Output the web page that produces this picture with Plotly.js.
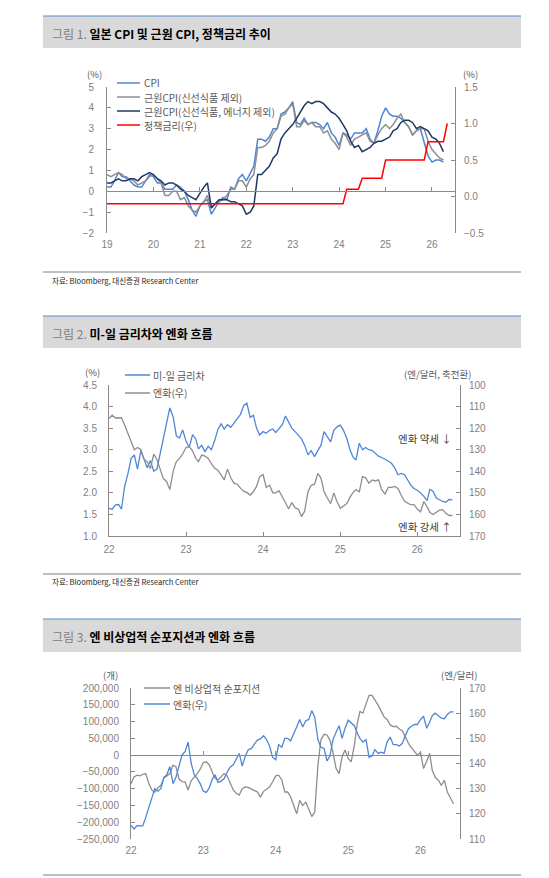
<!DOCTYPE html>
<html>
<head>
<meta charset="utf-8">
<script src="https://cdn.plot.ly/plotly-3.0.1.min.js"></script>
<style>
  html, body { margin: 0; padding: 0; background: #ffffff; }
  #chart { width: 549px; height: 878px; }
</style>
</head>
<body>
<div id="chart"></div>
<script>
// ---------- Figure 1: Japan CPI (YoY, %) monthly from Jan 2019, BOJ policy rate ----------
const cpiHeadline = [
  0.2, 0.2, 0.5, 0.9, 0.7, 0.7, 0.5, 0.3, 0.2, 0.2, 0.5, 0.8,
  0.7, 0.4, 0.4, 0.1, 0.1, 0.1, 0.3, 0.2, 0.0, -0.4, -0.9, -1.2,
  -0.7, -0.5, -0.4, -1.1, -0.8, -0.5, -0.3, -0.4, 0.2, 0.1, 0.6, 0.8,
  0.5, 0.9, 1.2, 2.5, 2.5, 2.4, 2.6, 3.0, 3.0, 3.7, 3.8, 4.0,
  4.3, 3.3, 3.2, 3.5, 3.2, 3.3, 3.3, 3.2, 3.0, 3.3, 2.8, 2.6,
  2.2, 2.8, 2.7, 2.5, 2.8, 2.8, 2.8, 3.0, 2.5, 2.3, 2.9, 3.6,
  4.0, 3.7, 3.6, 3.6, 3.5, 3.3, 3.1, 2.7, 2.9, 3.0, 2.4, 1.7,
  1.4, 1.5, 1.5, 1.4
];
const cpiCore = [
  0.8, 0.7, 0.8, 0.9, 0.8, 0.6, 0.6, 0.5, 0.3, 0.4, 0.5, 0.7,
  0.8, 0.6, 0.4, -0.2, -0.2, 0.0, 0.0, -0.4, -0.3, -0.7, -0.9, -1.0,
  -0.7, -0.5, -0.2, -0.8, -0.6, -0.5, -0.4, -0.2, 0.1, 0.1, 0.5, 0.5,
  0.2, 0.6, 0.8, 2.1, 2.1, 2.2, 2.4, 2.8, 3.0, 3.6, 3.7, 4.0,
  4.2, 3.1, 3.1, 3.4, 3.2, 3.3, 3.1, 3.1, 2.8, 2.9, 2.5, 2.3,
  2.0, 2.8, 2.6, 2.2, 2.5, 2.6, 2.7, 2.8, 2.4, 2.3, 2.7, 3.0,
  3.2, 3.0, 3.2, 3.5, 3.7, 3.3, 3.1, 2.7, 2.9, 3.0, 3.0, 2.4,
  2.0, 1.8, 1.6, 1.5
];
const cpiCoreCore = [
  0.4, 0.4, 0.5, 0.6, 0.5, 0.5, 0.6, 0.6, 0.5, 0.7, 0.8, 0.9,
  0.8, 0.6, 0.5, 0.3, 0.4, 0.4, 0.3, 0.1, 0.0, -0.2, -0.3, -0.4,
  -0.1, 0.2, 0.4, -0.8, -0.6, -0.4, -0.4, -0.4, -0.5, -0.5, -0.6, -0.7,
  -1.1, -1.0, -0.7, 0.8, 0.8, 1.0, 1.2, 1.6, 1.8, 2.5, 2.8, 3.0,
  3.2, 3.5, 3.8, 4.1, 4.3, 4.2, 4.3, 4.3, 4.2, 4.0, 3.8, 3.7,
  3.5, 3.2, 2.9, 2.4, 2.1, 2.2, 1.9, 2.0, 2.1, 2.3, 2.4, 2.4,
  2.5, 2.6, 2.9, 3.0, 3.3, 3.4, 3.4, 3.3, 3.0, 3.1, 3.0, 2.9,
  2.6, 2.5, 2.3, 1.9
];
const policyDates = ['2019-01-01', '2024-02-01', '2024-03-01', '2024-06-01', '2024-07-01',
  '2024-12-01', '2025-01-01', '2025-11-01', '2025-12-01', '2026-04-01', '2026-05-01'];
const policyRate = [-0.1, -0.1, 0.1, 0.1, 0.25, 0.25, 0.5, 0.5, 0.75, 0.75, 1.0];

// ---------- Figures 2 & 3: semi-monthly observations (1st / 16th) from Jan 2022 ----------
const usJpSpread = [
  1.64, 1.62, 1.72, 1.73, 1.62, 2.15, 2.45, 2.80, 2.88, 2.55,
  2.98, 2.78, 2.58, 2.75, 2.50, 2.55, 2.92, 3.25, 3.55, 3.97,
  3.76, 3.32, 3.27, 3.46, 3.20, 3.05, 3.35, 3.25, 3.02, 3.10,
  2.95, 3.08, 3.00, 3.20, 3.47, 3.60, 3.48, 3.58, 3.52, 3.62,
  3.70, 3.82, 4.02, 4.08, 3.75, 3.80, 3.50, 3.34, 3.42, 3.38,
  3.45, 3.48, 3.40, 3.50, 3.58, 3.78, 3.62, 3.50, 3.42, 3.34,
  3.25, 3.10, 2.88, 2.98, 2.84, 2.98, 3.10, 3.42, 3.30, 3.18,
  3.45, 3.53, 3.57, 3.45, 3.26, 3.00, 2.84, 2.76, 3.15, 3.00,
  3.05, 3.00, 2.98, 2.92, 2.85, 2.82, 2.78, 2.74, 2.68, 2.58,
  2.42, 2.45, 2.42, 2.30, 2.18, 2.10, 2.06, 2.00, 1.92, 1.82,
  2.08, 2.04, 1.88, 1.84, 1.80, 1.78, 1.85, 1.83
];
const usdJpy = [
  115.5, 114.0, 115.3, 115.3, 115.2, 118.5, 122.5, 126.5, 130.0, 129.0,
  130.0, 134.5, 135.5, 138.8, 132.0, 134.5, 139.5, 143.5, 144.7, 148.5,
  140.0, 135.5, 134.0, 132.0, 129.0, 128.5, 130.5, 134.0, 135.5, 132.5,
  133.0, 134.0, 136.5, 138.5, 139.5, 141.5, 144.0, 139.0, 143.0, 145.5,
  146.0, 147.8, 149.3, 149.8, 151.0, 149.5, 147.0, 142.5, 141.5, 147.5,
  146.5, 150.0, 150.0, 149.0, 151.5, 154.5, 157.5, 154.5, 157.0, 157.5,
  161.0, 158.5, 149.5, 146.5, 146.0, 141.0, 143.0, 149.5, 152.5, 155.0,
  150.0, 154.0, 157.2, 156.0, 155.0, 152.0, 150.0, 148.5, 149.5, 142.5,
  143.0, 145.5, 144.0, 144.5, 144.0, 148.5, 150.5, 147.5, 147.5, 147.0,
  148.0, 151.0, 153.8, 154.8, 155.5, 155.5, 157.5, 158.8, 154.0, 156.5,
  159.0, 160.0, 159.0, 158.0, 157.8, 159.5, 160.5, 160.5
];
const yenNetPosition = [
  -85000, -65000, -60000, -62000, -57000, -55000, -85000, -104000, -110000, -98000,
  -90000, -68000, -62000, -55000, -30000, -35000, -72000, -79000, -80000, -104000,
  -76000, -66000, -55000, -42000, -22000, -20000, -30000, -52000, -69000, -74000,
  -64000, -55000, -62000, -85000, -104000, -114000, -119000, -100000, -95000, -96000,
  -100000, -106000, -110000, -125000, -108000, -100000, -95000, -80000, -62000, -60000,
  -74000, -110000, -110000, -124000, -150000, -175000, -135000, -150000, -140000, -160000,
  -183000, -170000, -30000, 45000, 62000, 60000, 44000, 8000, -40000, -55000,
  -5000, 15000, -10000, -20000, 30000, 95000, 130000, 125000, 155000, 178000,
  178000, 165000, 149000, 131000, 114000, 106000, 90000, 85000, 86000, 78000,
  72000, 55000, 35000, 22000, 12000, 0, 8000, -40000, -18000, 5000,
  -45000, -66000, -75000, -90000, -75000, -110000, -128000, -145000
];

// ---------- helpers ----------
const W = 549, H = 878;
const fx = p => p / W;
const fy = p => 1 - p / H;
const pad2 = n => String(n).padStart(2, '0');
const monthlyDates = (year, n) => Array.from({ length: n }, (_, i) =>
  `${year + Math.floor(i / 12)}-${pad2(i % 12 + 1)}-01`);
const semiMonthlyDates = (year, n) => Array.from({ length: n }, (_, i) => {
  const m = Math.floor(i / 2);
  return `${year + Math.floor(m / 12)}-${pad2(m % 12 + 1)}-${i % 2 ? '16' : '01'}`;
});

const KR = "'Noto Sans CJK KR', 'Noto Sans', sans-serif";
const NUM = "'Liberation Sans', Arial, sans-serif";
const NARROW = "'Liberation Sans Narrow', 'Noto Sans CJK KR', sans-serif";
const AX = '#8a8a8a';
const TICK_FONT = { family: NUM, size: 10, color: '#7f7f7f' };
const BLUE = '#4f86d6', GRAY = '#8e8e8e', NAVY = '#1f3864', RED = '#ff0000';

// plot boxes in page pixels
const box1 = { l: 107, r: 455, t: 87, b: 233 };
const box2 = { l: 109, r: 460, t: 385, b: 536 };
const box3 = { l: 131, r: 460, t: 688, b: 839 };
const dom = b => ({ x: [fx(b.l), fx(b.r)], y: [fy(b.b), fy(b.t)] });
const levelPos = (b, range, v) => fy(b.b - (v - range[0]) / (range[1] - range[0]) * (b.b - b.t));

const range1L = [-2, 5], range1R = [-0.5, 1.5];
const range2L = [1.0, 4.5], range2R = [170, 100];
const range3L = [-250000, 200000], range3R = [110, 170];
const xRange1 = ['2019-01-01', '2026-07-01'];
const xRange2 = ['2022-01-01', '2026-07-22'];
const xRange3 = ['2022-01-01', '2026-07-19'];

const monthX = monthlyDates(2019, cpiHeadline.length);
const semiX = semiMonthlyDates(2022, usdJpy.length);

const baseX = (b, range, extra) => Object.assign({
  type: 'date', domain: dom(b).x, range: range, autorange: false,
  dtick: 'M12', tick0: range[0].slice(0, 4) + '-01-01', tickformat: '%y',
  showgrid: false, zeroline: false, showline: false, ticks: '',
  tickfont: TICK_FONT, fixedrange: true
}, extra);
const baseY = (b, range, extra) => Object.assign({
  domain: dom(b).y, range: range, autorange: false,
  showgrid: false, zeroline: false, showline: true, linecolor: AX, linewidth: 1,
  ticks: 'inside', ticklen: 4, tickcolor: AX, tickfont: TICK_FONT, fixedrange: true
}, extra);

// ---------- traces ----------
const traces = [
  { name: 'CPI', x: monthX, y: cpiHeadline, xaxis: 'x', yaxis: 'y',
    mode: 'lines', line: { color: BLUE, width: 1.5 } },
  { name: '근원CPI(신선식품 제외)', x: monthX, y: cpiCore, xaxis: 'x', yaxis: 'y',
    mode: 'lines', line: { color: GRAY, width: 1.5 } },
  { name: '근원CPI(신선식품, 에너지 제외)', x: monthX, y: cpiCoreCore, xaxis: 'x', yaxis: 'y',
    mode: 'lines', line: { color: NAVY, width: 1.5 } },
  { name: '정책금리(우)', x: policyDates, y: policyRate, xaxis: 'x4', yaxis: 'y2',
    mode: 'lines', line: { color: RED, width: 1.5 } },

  { name: '미-일 금리차', x: semiX, y: usJpSpread, xaxis: 'x2', yaxis: 'y3',
    mode: 'lines', line: { color: BLUE, width: 1.3 } },
  { name: '엔화(우)', x: semiX, y: usdJpy, xaxis: 'x2', yaxis: 'y4',
    mode: 'lines', line: { color: GRAY, width: 1.3 } },

  { name: '엔 비상업적 순포지션', x: semiX, y: yenNetPosition, xaxis: 'x3', yaxis: 'y5',
    mode: 'lines', line: { color: GRAY, width: 1.3 } },
  { name: '엔화(우)', x: semiX, y: usdJpy, xaxis: 'x5', yaxis: 'y6',
    mode: 'lines', line: { color: BLUE, width: 1.3 } }
];

// ---------- decorations: header bars, rules, legends, labels ----------
const shapes = [];
const annotations = [];
const txt = (x, y, text, font, xanchor) => annotations.push({
  xref: 'paper', yref: 'paper', x: fx(x), y: fy(y), text: text, showarrow: false,
  xanchor: xanchor || 'center', yanchor: 'middle', font: font, borderpad: 0
});
const hline = (x0, x1, y, color, width) => shapes.push({
  type: 'line', xref: 'paper', yref: 'paper', x0: fx(x0), x1: fx(x1), y0: fy(y), y1: fy(y),
  line: { color: color, width: width }
});

function header(top, bottom, num, title) {
  shapes.push({ type: 'rect', xref: 'paper', yref: 'paper', x0: fx(43), x1: fx(521),
    y0: fy(bottom), y1: fy(top), fillcolor: '#d9d9d9', line: { width: 0 }, layer: 'below' });
  hline(43, 521, top, '#5b8ccf', 1.2);
  txt(51, (top + bottom) / 2 + 1,
    `<span style="color:#808080">그림 ${num}.</span> <b>${title}</b>`,
    { family: KR, size: 12, color: '#000000' }, 'left');
}
function legend(x0, x1, tx, rows) {
  rows.forEach(r => {
    hline(x0, x1, r.y, r.color, 1.5);
    txt(tx, r.y, r.text, { family: KR, size: 10, color: '#595959' }, 'left');
  });
}
const UNIT = { family: KR, size: 9.5, color: '#595959' };
const SRC = { family: NARROW, size: 7.5, color: '#222222' };

// Figure 1
header(16, 48, 1, '일본 CPI 및 근원 CPI, 정책금리 추이');
legend(117, 140, 143, [
  { y: 83, color: BLUE, text: 'CPI' },
  { y: 97, color: GRAY, text: '근원CPI(신선식품 제외)' },
  { y: 111, color: NAVY, text: '근원CPI(신선식품, 에너지 제외)' },
  { y: 125, color: RED, text: '정책금리(우)' }
]);
txt(94, 74, '(%)', UNIT);
txt(470, 74, '(%)', UNIT);
hline(43, 521, 272, '#7f7f7f', 1);
txt(51, 280, '자료: Bloomberg, 대신증권 Research Center', SRC, 'left');

// Figure 2
header(316, 348, 2, '미-일 금리차와 엔화 흐름');
legend(125, 150, 152, [
  { y: 375, color: BLUE, text: '미-일 금리차' },
  { y: 393, color: GRAY, text: '엔화(우)' }
]);
txt(92, 372, '(%)', UNIT);
txt(437, 374, '(엔/달러, 축전환)', UNIT);
txt(453, 438, '엔화 약세 ↓', { family: KR, size: 10.5, color: '#404040' }, 'right');
txt(453, 526, '엔화 강세 ↑', { family: KR, size: 10.5, color: '#404040' }, 'right');
hline(43, 521, 574, '#7f7f7f', 1);
txt(51, 581, '자료: Bloomberg, 대신증권 Research Center', SRC, 'left');

// Figure 3
header(619, 652, 3, '엔 비상업적 순포지션과 엔화 흐름');
legend(144, 170, 172, [
  { y: 688, color: GRAY, text: '엔 비상업적 순포지션' },
  { y: 704, color: BLUE, text: '엔화(우)' }
]);
txt(110, 675, '(개)', UNIT);
txt(459, 675, '(엔/달러)', UNIT);
hline(43, 521, 875, '#7f7f7f', 1);

// ---------- layout ----------
const layout = {
  width: W, height: H, margin: { l: 0, r: 0, t: 0, b: 0 },
  paper_bgcolor: '#ffffff', plot_bgcolor: 'rgba(0,0,0,0)', showlegend: false,
  font: { family: KR, size: 10, color: '#595959' },

  // figure 1: labels at the bottom, axis line drawn at the zero level
  xaxis: baseX(box1, xRange1, { anchor: 'y', ticklabelstandoff: 4 }),
  xaxis4: baseX(box1, xRange1, { overlaying: 'x', anchor: 'free',
    position: levelPos(box1, range1L, 0), showline: true, linecolor: AX,
    ticks: 'inside', ticklen: 4, tickcolor: AX, showticklabels: false }),
  yaxis: baseY(box1, range1L, { anchor: 'x', dtick: 1, ticklabelstandoff: 10 }),
  yaxis2: baseY(box1, range1R, { anchor: 'x', overlaying: 'y', side: 'right',
    dtick: 0.5, tickformat: '.1f', ticklabelstandoff: 6 }),

  // figure 2
  xaxis2: baseX(box2, xRange2, { anchor: 'y3', showline: true, linecolor: AX,
    ticks: 'inside', ticklen: 4, tickcolor: AX, ticklabelstandoff: 4 }),
  yaxis3: baseY(box2, range2L, { anchor: 'x2', dtick: 0.5, tickformat: '.1f', ticklabelstandoff: 9 }),
  yaxis4: baseY(box2, range2R, { anchor: 'x2', overlaying: 'y3', side: 'right',
    dtick: 10, ticklabelstandoff: 6 }),

  // figure 3: labels at the bottom, axis line drawn at zero contracts
  xaxis3: baseX(box3, xRange3, { anchor: 'y5', ticklabelstandoff: 4 }),
  xaxis5: baseX(box3, xRange3, { overlaying: 'x3', anchor: 'free',
    position: levelPos(box3, range3L, 0), showline: true, linecolor: AX,
    ticks: 'inside', ticklen: 4, tickcolor: AX, showticklabels: false }),
  yaxis5: baseY(box3, range3L, { anchor: 'x3', dtick: 50000, tickformat: ',d', ticklabelstandoff: 9 }),
  yaxis6: baseY(box3, range3R, { anchor: 'x3', overlaying: 'y5', side: 'right',
    dtick: 10, ticklabelstandoff: 6 }),

  shapes: shapes,
  annotations: annotations
};

Plotly.newPlot('chart', traces, layout, { staticPlot: true, displayModeBar: false });
</script>
</body>
</html>
